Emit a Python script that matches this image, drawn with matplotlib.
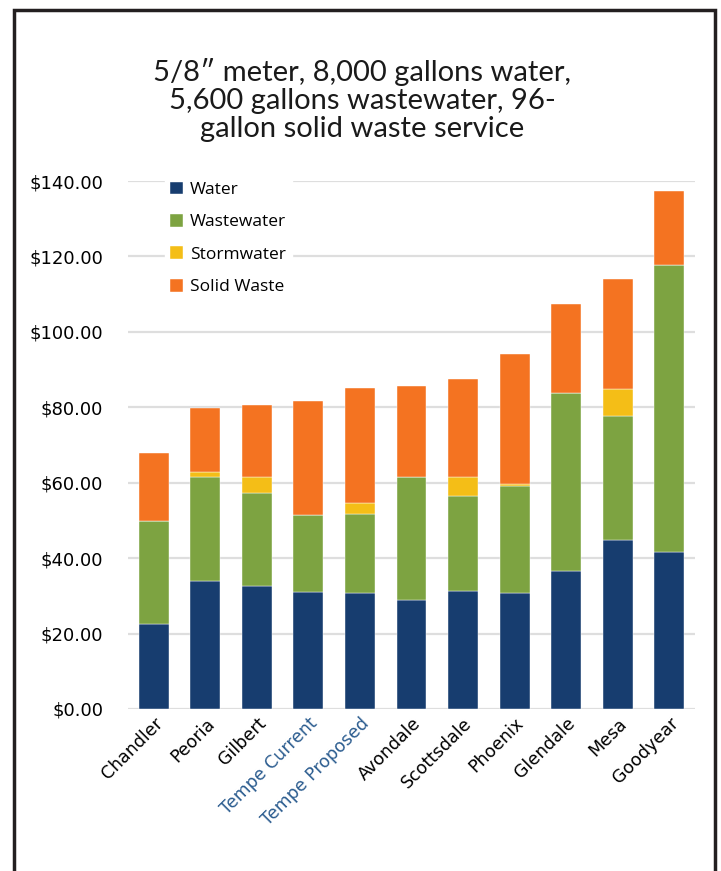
import numpy as np
import matplotlib
matplotlib.use('Agg')
import matplotlib.pyplot as plt
from matplotlib.patches import Rectangle

cities = ['Chandler', 'Peoria', 'Gilbert', 'Tempe Current', 'Tempe Proposed',
          'Avondale', 'Scottsdale', 'Phoenix', 'Glendale', 'Mesa', 'Goodyear']
water = [22.5, 33.9, 32.7, 31.0, 30.7, 28.8, 31.4, 30.7, 36.5, 44.9, 41.5]
wastewater = [27.3, 27.5, 24.7, 20.5, 21.1, 32.8, 25.1, 28.5, 47.4, 32.7, 76.1]
stormwater = [0.0, 1.4, 4.2, 0.0, 2.8, 0.0, 5.1, 0.4, 0.0, 7.2, 0.0]
solid_waste = [18.2, 17.1, 18.9, 30.1, 30.5, 24.0, 25.9, 34.5, 23.6, 29.2, 19.7]
yticks = [0, 20, 40, 60, 80, 100, 120, 140]

series = [('Water', water, '#173d6f'),
          ('Wastewater', wastewater, '#7da341'),
          ('Stormwater', stormwater, '#f4be17'),
          ('Solid Waste', solid_waste, '#f47321')]

plt.rcParams['font.family'] = ['DejaVu Sans']

W, H = 721, 871
fig = plt.figure(figsize=(W / 100, H / 100), dpi=100)
ax = fig.add_axes([128 / W, 1 - 709 / H, (695 - 128) / W, (709 - 181) / H])

x = np.arange(len(cities))
bottom = np.zeros(len(cities))
for name, vals, col in series:
    ax.bar(x, vals, width=0.58, bottom=bottom, color=col, label=name,
           edgecolor='white', linewidth=0.3, zorder=3)
    bottom += np.array(vals)

ax.set_xlim(-0.5, len(cities) - 0.5)
ax.set_ylim(0, 140)
ax.set_yticks(yticks)
ax.set_yticklabels(['${:.2f}'.format(v) for v in yticks], fontsize=13)
ax.yaxis.grid(True, color='#dedede', linewidth=1.6, zorder=0)
for s in ax.spines.values():
    s.set_visible(False)
ax.tick_params(length=0, pad=18)
ax.tick_params(axis='x', pad=4)
ax.set_xticks(x)
ax.set_xticklabels(cities, rotation=45, ha='right', rotation_mode='anchor', fontsize=12.5)
for lab in ax.get_xticklabels():
    if lab.get_text().startswith('Tempe'):
        lab.set_color('#2b5c8f')

leg = ax.legend(loc='upper left', bbox_to_anchor=(0.05, 1.025), frameon=True,
                framealpha=1, edgecolor='white',
                prop={'family': 'Open Sans', 'size': 12.5},
                handlelength=0.75, handleheight=0.75, handletextpad=0.4,
                labelspacing=0.92, borderpad=0.3, fancybox=False)
leg.set_zorder(5)

fig.text(0.502, 1 - 100 / H,
         '5/8\u2033 meter, 8,000 gallons water,\n5,600 gallons wastewater, 96-\ngallon solid waste service',
         ha='center', va='center', fontsize=21, linespacing=1.08, color='#1a1a1a',
         family='Lato')

fig.patches.append(Rectangle((14 / W, -0.1), (715 - 14) / W, 1.1 - 10 / H,
                             transform=fig.transFigure, fill=False,
                             edgecolor='#231f20', linewidth=2.5))

fig.savefig('out.png', dpi=100)
